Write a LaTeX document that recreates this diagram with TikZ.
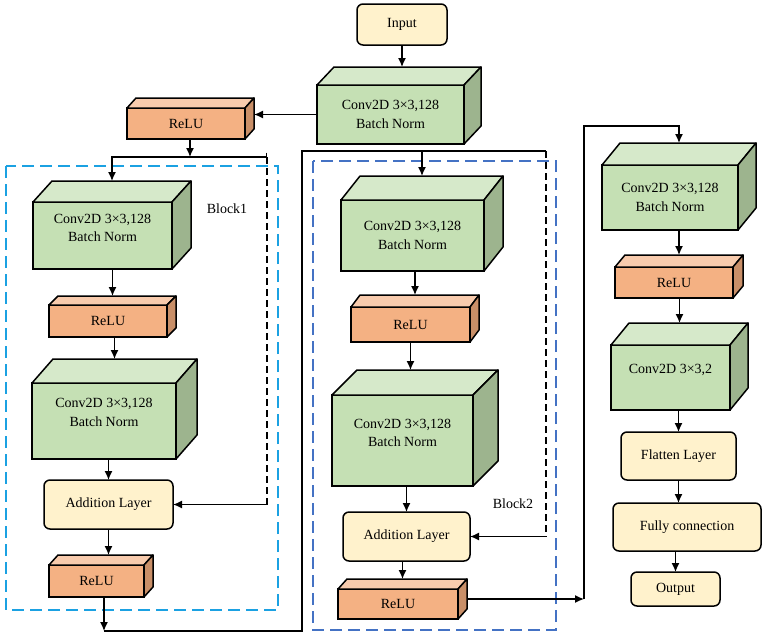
\documentclass[tikz,border=0pt]{standalone}
\usepackage{fontspec}
\setmainfont{Liberation Serif}
\usepackage{xcolor}
\usetikzlibrary{positioning, shapes, arrows.meta}

\definecolor{convfront}{HTML}{C5E0B4}
\definecolor{convtop}{HTML}{D6E9CA}
\definecolor{convside}{HTML}{9DB48E}
\definecolor{relufront}{HTML}{F4B183}
\definecolor{relutop}{HTML}{F8CBAD}
\definecolor{reluside}{HTML}{C98F68}
\definecolor{layerfill}{HTML}{FFF2CC}
\definecolor{blockone}{HTML}{1BA1E2}
\definecolor{blocktwo}{HTML}{4472C4}

\tikzset{
  conv/.style={draw, line width=1.5pt, fill=convfront, outer sep=0pt, inner sep=0pt, align=center},
  relu/.style={draw, line width=1.5pt, fill=relufront, outer sep=0pt, inner sep=0pt},
  layer/.style={draw, line width=1.5pt, fill=layerfill, rounded corners=6pt, outer sep=0pt},
  lift/.style={text depth=#1},
  arr/.style={-{Latex[length=9pt,width=8pt]}, line width=1.4pt},
  skip/.style={line width=1.1pt, dash pattern=on 7pt off 4pt},
  block/.style={line width=1.5pt, dash pattern=on 12pt off 6pt},
}

% depth faces of a box: name, dx, dy, top colour, side colour
\newcommand{\boxdepth}[5]{%
  \draw[line width=1.5pt, line join=round, fill=#4] (#1.north west) -- ++(#2,-#3) -- ([shift={(#2,-#3)}]#1.north east) -- (#1.north east) -- cycle;
  \draw[line width=1.5pt, line join=round, fill=#5] (#1.north east) -- ([shift={(#2,-#3)}]#1.north east) -- ([shift={(#2,-#3)}]#1.south east) -- (#1.south east) -- cycle;
  \coordinate (#1-top) at ([shift={(#2/2,-#3)}]#1.north);
  \coordinate (#1-side) at ([shift={(#2,-#3/2)}]#1.east);
}

\begin{document}
\begin{tikzpicture}[x=1pt, y=-1pt, font=\fontsize{14}{18.5}\selectfont]
  \useasboundingbox (0,0) rectangle (765,638);

  % block frames
  \draw[block, draw=blockone] (6,166) rectangle (278,610);
  \draw[block, draw=blocktwo] (313,161) rectangle (556,630);
  \node (blk1) at (227,209) {Block1};
  \node (blk2) at (513,504) {Block2};

  % stem
  \node (input) [layer, minimum width=90pt, minimum height=41pt] at (402,24.5) {Input};
  \node (conv0) [conv, minimum width=147pt, minimum height=59pt] at (390.5,114.5) {Conv2D 3×3,128\\Batch Norm};
  \boxdepth{conv0}{17}{18}{convtop}{convside}
  \node (relu0) [relu, minimum width=118pt, minimum height=31pt] at (186,123.5) {ReLU};
  \boxdepth{relu0}{9}{10}{relutop}{reluside}

  % block 1
  \node (b1conv1) [conv, lift=15pt, minimum width=139pt, minimum height=67pt] at (102.5,235.5) {Conv2D 3×3,128\\Batch Norm};
  \boxdepth{b1conv1}{19}{21}{convtop}{convside}
  \node (b1relu) [relu, minimum width=118pt, minimum height=32pt] at (108,321) {ReLU};
  \boxdepth{b1relu}{9}{9}{relutop}{reluside}
  \node (b1conv2) [conv, lift=17pt, minimum width=144pt, minimum height=76pt] at (104,421) {Conv2D 3×3,128\\Batch Norm};
  \boxdepth{b1conv2}{21}{24}{convtop}{convside}
  \node (b1add) [layer, minimum width=129pt, minimum height=49pt] at (108.5,504.5) {Addition Layer};
  \node (b1relu2) [relu, minimum width=95pt, minimum height=32pt] at (96.5,581) {ReLU};
  \boxdepth{b1relu2}{9}{10}{relutop}{reluside}

  % block 2
  \node (b2conv1) [conv, minimum width=143pt, minimum height=71pt] at (412.5,235.5) {Conv2D 3×3,128\\Batch Norm};
  \boxdepth{b2conv1}{19}{24}{convtop}{convside}
  \node (b2relu) [relu, minimum width=119pt, minimum height=35pt] at (410.5,324.5) {ReLU};
  \boxdepth{b2relu}{9}{12}{relutop}{reluside}
  \node (b2conv2) [conv, lift=15pt, minimum width=141pt, minimum height=91pt] at (402.5,440.5) {Conv2D 3×3,128\\Batch Norm};
  \boxdepth{b2conv2}{25}{25}{convtop}{convside}
  \node (b2add) [layer, minimum width=127pt, minimum height=49pt] at (406.5,536.5) {Addition Layer};
  \node (b2relu2) [relu, minimum width=120pt, minimum height=30pt] at (398,604) {ReLU};
  \boxdepth{b2relu2}{9}{10}{relutop}{reluside}

  % head
  \node (rconv1) [conv, minimum width=136pt, minimum height=65pt] at (670,197.5) {Conv2D 3×3,128\\Batch Norm};
  \boxdepth{rconv1}{18}{22}{convtop}{convside}
  \node (rrelu) [relu, minimum width=118pt, minimum height=31pt] at (674,282.5) {ReLU};
  \boxdepth{rrelu}{10}{12}{relutop}{reluside}
  \node (rconv2) [conv, lift=18pt, minimum width=119pt, minimum height=65pt] at (670.5,377.5) {Conv2D 3×3,2};
  \boxdepth{rconv2}{18}{22}{convtop}{convside}
  \node (flatten) [layer, minimum width=115pt, minimum height=48pt] at (678.5,456) {Flatten Layer};
  \node (fc) [layer, minimum width=148pt, minimum height=48pt] at (687,527) {Fully connection};
  \node (output) [layer, minimum width=89pt, minimum height=34pt] at (675.5,589) {Output};

  % junctions
  \coordinate (s1L) at (112,157);
  \coordinate (s1R) at (267,157);
  \coordinate (j1) at (104,631);
  \coordinate (j2) at (302,631);
  \coordinate (j5) at (302,151);
  \coordinate (s2R) at (546,151);
  \coordinate (j3) at (584,599);
  \coordinate (j4) at (584,126);

  % stem arrows
  \draw[arr] (input.south) -- (input.south |- conv0-top);
  \draw[arr] (conv0.west) -- (conv0.west -| relu0-side);
  \draw[arr] (relu0.south -| 190,0) -- (190,157);
  \draw[line width=1.4pt, {Bar[width=9pt]}-{Latex[length=9pt,width=8pt]}] (s1R) -- (s1L) -- (s1L |- b1conv1-top);

  % block 1 arrows
  \draw[arr] (b1relu-top |- b1conv1.south) -- (b1relu-top);
  \draw[arr] (b1conv2-top |- b1relu.south) -- (b1conv2-top);
  \draw[arr] (b1add.north |- b1conv2.south) -- (b1add.north);
  \draw[arr] (b1add.south) -- (b1add.south |- b1relu2-top);
  \draw[skip] (s1R) -- (s1R |- b1add.east);
  \draw[arr] (s1R |- b1add.east) -- (b1add.east);
  \draw[arr] (b1relu2.south -| j1) -- (j1);
  \draw[line width=1.4pt] (j1) -- (j2) -- (j5) -- (s2R);

  % block 2 arrows
  \draw[arr] (b2conv1-top |- s2R) -- (b2conv1-top);
  \draw[arr] (b2relu-top |- b2conv1.south) -- (b2relu-top);
  \draw[arr] (b2relu.south) -- (b2relu.south |- b2conv2-top);
  \draw[arr] (b2add.north |- b2conv2.south) -- (b2add.north);
  \draw[arr] (b2relu2-top |- b2add.south) -- (b2relu2-top);
  \draw[skip] (s2R) -- (s2R |- b2add.east);
  \draw[arr] (s2R |- b2add.east) -- (b2add.east);
  \draw[arr] (b2relu2-side) -- (j3);
  \draw[arr] (j3) -- (j4) -| (rconv1-top);

  % head arrows
  \draw[arr] (rrelu-top |- rconv1.south) -- (rrelu-top);
  \draw[arr] (rconv2-top |- rrelu.south) -- (rconv2-top);
  \draw[arr] (flatten.north |- rconv2.south) -- (flatten.north);
  \draw[arr] (flatten.south) -- (flatten.south |- fc.north);
  \draw[arr] (output.north |- fc.south) -- (output.north);
\end{tikzpicture}
\end{document}
